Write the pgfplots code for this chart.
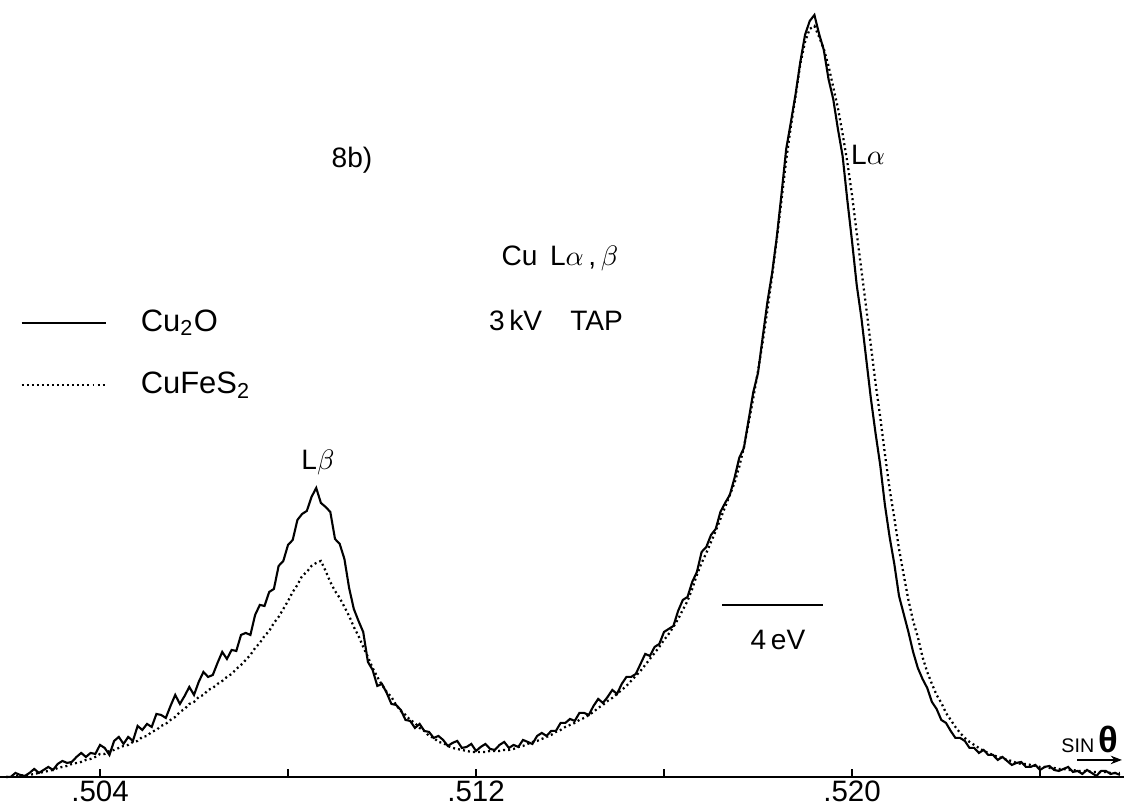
\documentclass[border=0pt]{standalone}
\usepackage{fontspec}
\setmainfont{Liberation Sans}
\usepackage{pgfplots}
\pgfplotsset{compat=1.18}
\usepackage{pgfplotstable}
\usetikzlibrary{arrows.meta}

\pgfplotstableread{
x s d
0.5020 0 0
0.5021 0 0
0.5022 4 1
0.5023 2 1
0.5024 1 2
0.5025 4 2
0.5026 8 3
0.5027 4 4
0.5028 7 5
0.5029 10 6
0.5030 7 7
0.5031 13 9
0.5032 16 10
0.5033 14 11
0.5034 15 13
0.5035 20 14
0.5036 24 15
0.5037 20 17
0.5038 24 18
0.5039 23 20
0.5040 32 23
0.5041 29 23
0.5042 22 26
0.5043 36 27
0.5044 40 29
0.5045 33 31
0.5046 40 32
0.5047 36 35
0.5048 51 36
0.5049 47 40
0.5050 53 41
0.5051 50 45
0.5052 63 47
0.5053 62 51
0.5054 59 53
0.5055 71 57
0.5056 82 60
0.5057 73 65
0.5058 81 68
0.5059 90 73
0.5060 82 75
0.5061 95 80
0.5062 105 82
0.5063 100 87
0.5064 102 89
0.5065 114 93
0.5066 125 96
0.5067 118 100
0.5068 127 103
0.5069 126 108
0.5070 142 112
0.5071 144 117
0.5072 142 122
0.5073 162 129
0.5074 172 134
0.5075 171 141
0.5076 185 146
0.5077 188 154
0.5078 211 160
0.5079 216 168
0.5080 232 176
0.5081 237 185
0.5082 257 192
0.5083 263 201
0.5084 266 205
0.5085 280 211
0.5086 289 214
0.5087 274 216
0.5088 270 206
0.5089 265 195
0.5090 238 186
0.5091 233 179
0.5092 218 170
0.5093 189 161
0.5094 168 150
0.5095 156 141
0.5096 145 130
0.5097 115 120
0.5098 107 109
0.5099 91 100
0.5100 93 92
0.5101 84 85
0.5102 73 80
0.5103 72 72
0.5104 67 66
0.5105 57 62
0.5106 56 57
0.5107 49 54
0.5108 53 49
0.5109 46 46
0.5110 45 41
0.5111 39 39
0.5112 41 35
0.5113 37 34
0.5114 31 31
0.5115 34 29
0.5116 36 28
0.5117 29 27
0.5118 30 26
0.5119 33 25
0.5120 26 25
0.5121 30 25
0.5122 33 25
0.5123 28 26
0.5124 27 26
0.5125 32 26
0.5126 35 27
0.5127 29 27
0.5128 32 28
0.5129 30 30
0.5130 37 31
0.5131 35 33
0.5132 33 35
0.5133 41 36
0.5134 44 38
0.5135 41 40
0.5136 46 42
0.5137 46 45
0.5138 54 47
0.5139 54 50
0.5140 58 52
0.5141 56 54
0.5142 64 57
0.5143 64 59
0.5144 62 62
0.5145 71 65
0.5146 78 69
0.5147 74 72
0.5148 80 76
0.5149 87 79
0.5150 83 83
0.5151 93 87
0.5152 100 91
0.5153 100 96
0.5154 103 101
0.5155 113 106
0.5156 123 112
0.5157 121 118
0.5158 130 124
0.5159 133 130
0.5160 145 137
0.5161 148 143
0.5162 151 150
0.5163 166 158
0.5164 177 167
0.5165 180 176
0.5166 195 188
0.5167 205 202
0.5168 225 214
0.5169 230 224
0.5170 242 235
0.5171 248 246
0.5172 265 258
0.5173 274 270
0.5174 282 282
0.5175 299 294
0.5176 319 310
0.5177 329 330
0.5178 357 354
0.5179 385 379
0.5180 404 406
0.5181 440 435
0.5182 475 467
0.5183 504 501
0.5184 540 538
0.5185 583 577
0.5186 628 617
0.5187 655 651
0.5188 683 681
0.5189 715 713
0.5190 742 735
0.5191 756 748
0.5192 762 751
0.5193 743 740
0.5194 727 728
0.5195 698 711
0.5196 678 690
0.5197 648 669
0.5198 621 643
0.5199 577 615
0.5200 536 582
0.5201 492 544
0.5202 459 507
0.5203 419 470
0.5204 379 432
0.5205 344 394
0.5206 312 360
0.5207 272 323
0.5208 240 288
0.5209 213 259
0.5210 181 228
0.5211 163 202
0.5212 145 177
0.5213 125 156
0.5214 109 140
0.5215 98 120
0.5216 89 105
0.5217 75 93
0.5218 68 82
0.5219 57 74
0.5220 54 64
0.5221 46 57
0.5222 39 50
0.5223 39 44
0.5224 36 39
0.5225 29 35
0.5226 29 32
0.5227 24 29
0.5228 27 26
0.5229 22 24
0.5230 22 22
0.5231 17 20
0.5232 20 19
0.5233 16 17
0.5234 12 16
0.5235 14 14
0.5236 15 13
0.5237 10 13
0.5238 10 12
0.5239 12 11
0.5240 7 10
0.5241 10 10
0.5242 11 9
0.5243 7 9
0.5244 6 8
0.5245 8 8
0.5246 10 7
0.5247 5 7
0.5248 6 6
0.5249 3 6
0.5250 7 6
0.5251 4 5
0.5252 1 5
0.5253 6 5
0.5254 6 5
0.5255 3 4
0.5256 4 4
0.5257 2 4
}\spectra

\begin{document}
\begin{tikzpicture}
\begin{axis}[name=ax,
  width=400pt, height=276.5pt, scale only axis,
  xmin=0.501872, xmax=0.525787, ymin=0, ymax=777,
  axis x line=bottom, axis y line=none,
  x axis line style={-, line width=0.6pt},
  xtick={0.504,0.508,0.512,0.516,0.520,0.524},
  xticklabels={.504,,.512,,.520,},
  tick align=inside, major tick length=2.8pt,
  tick style={line width=0.5pt, black},
  xticklabel style={font=\fontsize{10.5}{10.5}\selectfont, yshift=2.2pt},
  clip=false,
  legend style={at={(0.0178,0.602)}, anchor=north west, draw=none, fill=none,
    font=\fontsize{11}{11}\selectfont, row sep=13pt, column sep=12pt,
    inner sep=0pt, nodes={inner sep=0pt}, cells={anchor=west}},
  legend image code/.code={\draw[#1] (0pt,0pt) -- (30pt,0pt);},
  every node/.append style={font=\fontsize{11}{11}\selectfont},
]
\addplot[black, line width=0.75pt] table[x=x, y=s] {\spectra};
\addlegendentry{Cu\textsubscript{2}O}
\addplot[black, line width=0.8pt, dash pattern=on 0.7pt off 1.1pt] table[x=x, y=d] {\spectra};
\addlegendentry{CuFeS\textsubscript{2}}

\node at (axis cs:0.509361,617) {8b)};
\node at (axis cs:0.513787,519) {Cu\, L$\alpha$\,,\,$\beta$};
\node at (axis cs:0.513702,457) {3\,kV\quad TAP};
\node at (axis cs:0.508638,314) {L$\beta$};
\node at (axis cs:0.520340,622) {L$\alpha$};
\draw[line width=0.7pt] (axis cs:0.517234,172) -- (axis cs:0.519383,172);
\node at (axis cs:0.518425,137) {4\,eV};
\node at (axis cs:0.525064,37) {{\fontsize{7}{7}\selectfont SIN}\,{\fontsize{13}{13}\selectfont\bfseries θ}};
\draw[-{Stealth[length=4pt]}, line width=0.8pt] (axis cs:0.524787,17) -- (axis cs:0.525744,17);
\end{axis}
\pgfresetboundingbox
\path (ax.south west) ++(0pt,-10.68pt) rectangle (ax.north east);
\end{tikzpicture}
\end{document}
